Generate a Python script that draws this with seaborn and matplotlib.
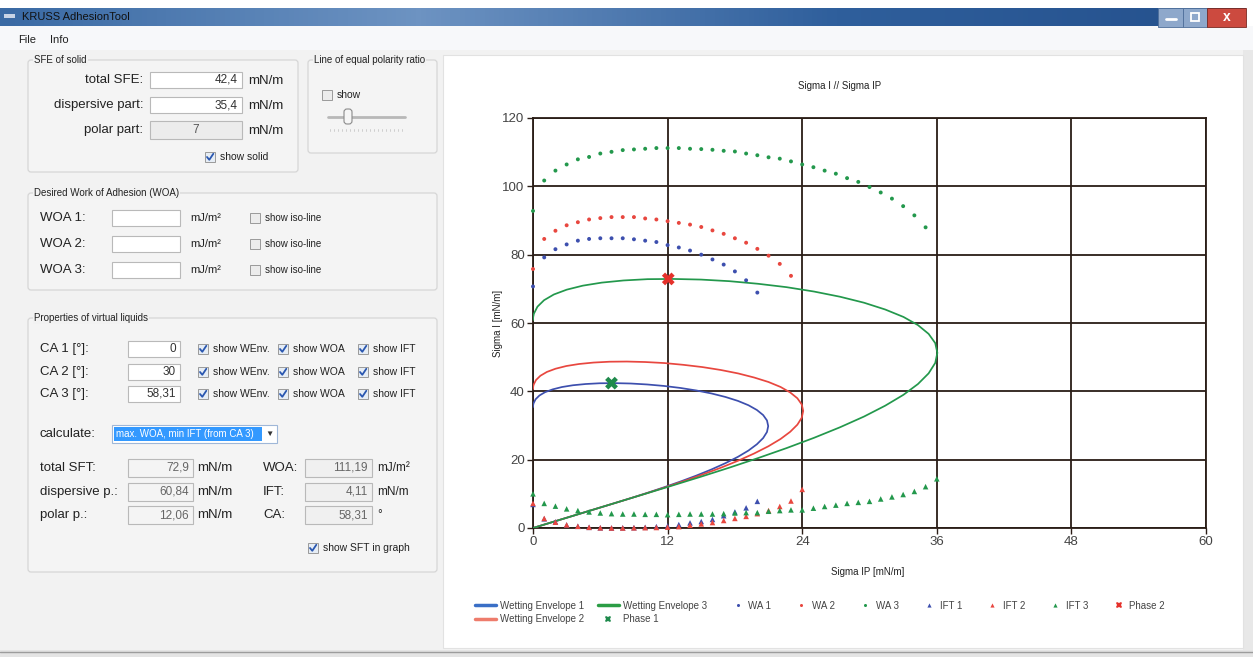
import numpy as np
import pandas as pd
import matplotlib
matplotlib.use("Agg")
import matplotlib.pyplot as plt
import matplotlib.patches as mpatches
from matplotlib.lines import Line2D
from matplotlib.colors import LinearSegmentedColormap
import seaborn as sns

# ── Style ──────────────────────────────────────────────────────────────
sns.set_theme(style="white")
plt.rcParams["font.family"] = ["Liberation Sans", "DejaVu Sans"]

W, H = 1253, 657
BLUE, RED, GREEN = "#3d4fae", "#e8473f", "#23984c"
LEG_BLUE, LEG_RED, LEG_GREEN = "#3a6fc6", "#ee7c6c", "#2b9d45"
GRID = "#2a1d16"

# ── Data ───────────────────────────────────────────────────────────────
X_TICKS = [0, 12, 24, 36, 48, 60]
Y_TICKS = [0, 20, 40, 60, 80, 100, 120]

# wetting envelopes: polar part (x) / total surface tension (y)
ENV1_P = [0, 7.01, 8.71, 10.18, 11.67, 13.14, 14.57, 15.92, 17.16, 18.27, 19.21, 19.96,
          20.52, 20.86, 20.97, 20.86, 20.52, 19.96, 19.21, 18.27, 17.16, 15.92, 14.57, 13.14,
          11.67, 10.18, 8.71, 7.28, 5.94, 4.69, 3.56, 2.58, 1.75, 1.08, 0.575, 0.23, 0.044,
          0.011, 0]
ENV1_S = [0, 7.01, 8.73, 10.27, 11.90, 13.59, 15.35, 17.15, 18.98, 20.83, 22.67, 24.51,
          26.33, 28.10, 29.82, 31.48, 33.05, 34.54, 35.93, 37.20, 38.35, 39.37, 40.25, 40.99,
          41.58, 42.01, 42.29, 42.40, 42.36, 42.14, 41.78, 41.26, 40.57, 39.76, 38.79, 37.68,
          36.46, 35.93, 35.39]
ENV2_P = [0, 8.05, 10.00, 11.70, 13.40, 15.10, 16.74, 18.29, 19.71, 20.99, 22.07, 22.93,
          23.57, 23.96, 24.09, 23.96, 23.57, 22.93, 22.07, 20.99, 19.71, 18.29, 16.74, 15.10,
          13.40, 11.70, 10.00, 8.37, 6.82, 5.39, 4.10, 2.97, 2.01, 1.24, 0.659, 0.265, 0.050,
          0.012, 0]
ENV2_S = [0, 8.05, 10.03, 11.81, 13.67, 15.62, 17.63, 19.70, 21.80, 23.93, 26.05, 28.16,
          30.24, 32.28, 34.26, 36.16, 37.97, 39.67, 41.28, 42.74, 44.05, 45.24, 46.25, 47.10,
          47.76, 48.28, 48.58, 48.72, 48.67, 48.42, 48.00, 47.41, 46.62, 45.68, 44.56, 43.30,
          41.90, 41.28, 40.67]
ENV3_P = [0, 12.05, 14.98, 17.51, 20.06, 22.60, 25.05, 27.37, 29.51, 31.40, 33.03, 34.32,
          35.27, 35.86, 36.05, 35.86, 35.27, 34.32, 33.03, 31.40, 29.51, 27.37, 25.05, 22.60,
          20.06, 17.51, 14.98, 12.52, 10.21, 8.07, 6.13, 4.44, 3.01, 1.86, 0.988, 0.397,
          0.076, 0.018, 0]
ENV3_S = [0, 12.05, 15.02, 17.67, 20.46, 23.38, 26.39, 29.48, 32.62, 35.80, 38.99, 42.14,
          45.26, 48.31, 51.27, 54.12, 56.82, 59.38, 61.77, 63.95, 65.94, 67.69, 69.21, 70.49,
          71.48, 72.24, 72.71, 72.89, 72.83, 72.45, 71.82, 70.93, 69.76, 68.35, 66.68, 64.78,
          62.70, 61.78, 60.85]

# work of adhesion / interfacial tension, one point per mN/m of polar part
WA1 = [70.7, 79.2, 81.6, 83.0, 84.1, 84.6, 84.8, 84.8, 84.8, 84.5, 84.1, 83.7, 82.8, 82.1,
       81.2, 80.0, 78.6, 77.1, 75.1, 72.5, 68.9]
WA2 = [75.8, 84.6, 87.0, 88.6, 89.5, 90.3, 90.7, 91.0, 91.0, 91.0, 90.6, 90.3, 89.8, 89.3,
       88.8, 88.1, 87.1, 86.1, 84.8, 83.5, 81.7, 79.7, 77.3, 73.8]
WA3 = [92.8, 101.7, 104.6, 106.4, 107.9, 108.6, 109.6, 110.1, 110.6, 110.8, 111.0, 111.2,
       111.2, 111.2, 111.0, 110.9, 110.7, 110.4, 110.2, 109.6, 109.1, 108.5, 108.1, 107.3,
       106.4, 105.6, 104.6, 103.7, 102.4, 101.3, 99.8, 98.2, 96.4, 94.2, 91.5, 88.0]
IFT1 = [6.9, 2.7, 1.8, 0.9, 0.5, 0.2, 0.05, 0.0, 0.05, 0.1, 0.2, 0.4, 0.6, 1.0, 1.5, 1.9,
        2.5, 3.6, 4.7, 5.9, 7.8]
IFT2 = [7.2, 2.8, 1.7, 0.9, 0.5, 0.2, 0.05, 0.0, 0.0, 0.05, 0.1, 0.15, 0.25, 0.4, 0.8,
        1.2, 1.6, 2.2, 2.8, 3.4, 4.2, 5.1, 6.3, 7.9, 11.3]
IFT3 = [10.0, 7.2, 6.4, 5.6, 5.1, 4.7, 4.4, 4.2, 4.1, 4.1, 4.0, 4.0, 3.9, 4.0, 4.1, 4.1,
        4.1, 4.2, 4.4, 4.5, 4.5, 4.9, 5.1, 5.3, 5.3, 5.8, 6.3, 6.7, 7.2, 7.5, 7.8, 8.5, 9.1,
        9.8, 10.7, 12.1, 14.4]

PHASE1 = (7.0, 42.4)     # solid
PHASE2 = (12.06, 72.9)   # virtual liquid


def series_frame(values, name):
    return pd.DataFrame({"p": list(range(len(values))), "v": values, "series": name})


env = pd.concat([
    pd.DataFrame({"p": ENV1_P, "v": ENV1_S, "series": "Wetting Envelope 1"}),
    pd.DataFrame({"p": ENV2_P, "v": ENV2_S, "series": "Wetting Envelope 2"}),
    pd.DataFrame({"p": ENV3_P, "v": ENV3_S, "series": "Wetting Envelope 3"}),
], ignore_index=True)
wa = pd.concat([series_frame(WA1, "WA 1"), series_frame(WA2, "WA 2"),
                series_frame(WA3, "WA 3")], ignore_index=True)
ift = pd.concat([series_frame(IFT1, "IFT 1"), series_frame(IFT2, "IFT 2"),
                 series_frame(IFT3, "IFT 3")], ignore_index=True)
phases = pd.DataFrame({"p": [PHASE1[0], PHASE2[0]], "v": [PHASE1[1], PHASE2[1]],
                       "series": ["Phase 1", "Phase 2"]})

fig = plt.figure(figsize=(W / 100, H / 100), dpi=100)
fig.patch.set_facecolor("#f2f2f2")

# ── Window chrome / left panel (pixel coordinates) ─────────────────────
ui = fig.add_axes([0, 0, 1, 1], zorder=0)
ui.axis("off")


def rect(x0, y0, x1, y1, fc, ec="none", lw=1.0, z=1):
    ui.add_patch(mpatches.Rectangle((x0, y0), x1 - x0, y1 - y0, fc=fc, ec=ec, lw=lw, zorder=z))


def txt(x, y, s, size=9.5, ha="left", color="#222222", **kw):
    ui.text(x, y, s, fontsize=size, ha=ha, va="center", color=color, zorder=5, **kw)


def group(x0, y0, x1, y1, label):
    ui.add_patch(mpatches.FancyBboxPatch((x0, y0), x1 - x0, y1 - y0,
                                         boxstyle="round,pad=0,rounding_size=3",
                                         fc="#f4f4f4", ec="#d6d6d6", lw=0.9, zorder=1))
    ui.text(x0 + 6, y0, label, fontsize=7, ha="left", va="center", color="#222222",
            zorder=5, bbox=dict(fc="#f2f2f2", ec="none", pad=1))


def field(x0, y0, x1, y1, value="", fc="white", color="#333333", ha="right"):
    rect(x0, y0, x1, y1, fc, ec="#b9b9b9", lw=0.8, z=2)
    if value:
        xt = x1 - 4 if ha == "right" else (x0 + x1) / 2
        txt(xt, (y0 + y1) / 2, value, size=8.5, ha=ha, color=color)


def checkbox(x, y, label, checked=True, size=7.5):
    rect(x, y - 5, x + 10, y + 5, "#e6edf5" if checked else "#ececec", ec="#9a9a9a", lw=0.7, z=3)
    if checked:
        ui.add_line(Line2D([x + 2, x + 4.3, x + 8.3], [y, y + 2.8, y - 3.2],
                           color="#2a57b0", lw=1.3, zorder=4))
    txt(x + 15, y, label, size=size)


# title bar
rect(0, 0, W, 8, "white", z=0)
cmap = LinearSegmentedColormap.from_list("tb", ["#3a6aa4", "#6d93c2", "#2f5f9c", "#24508c"])
ui.imshow(np.linspace(0, 1, 256)[None, :], cmap=cmap, aspect="auto",
          extent=[0, W, 26, 8], zorder=1)
rect(1246, 8, W, 26, "white", z=2)
rect(4, 14, 15, 18, "#c8d4e6", z=2)
txt(22, 16.5, "KRUSS AdhesionTool", size=8, color="#111111")
rect(1158, 8, 1183, 27, "#8ea8cb", ec="#4f6f9a", lw=0.6, z=2)
rect(1183, 8, 1207, 27, "#8ea8cb", ec="#4f6f9a", lw=0.6, z=2)
rect(1207, 8, 1246, 27, "#cc4a3f", ec="#7a2a22", lw=0.6, z=2)
ui.add_line(Line2D([1166, 1176], [19, 19], color="white", lw=2, zorder=3))
rect(1191, 13, 1199, 21, "none", ec="white", lw=1.3, z=3)
txt(1226.5, 17, "x", size=10, ha="center", color="white", fontweight="bold")

# menu + main background
rect(0, 26, W, 50, "#f7f8fa", z=0)
txt(18, 40, "File", size=8)
txt(50, 40, "Info", size=8)
rect(1243, 50, W, H, "#e8e8e8", z=0)
rect(0, 650, W, H, "#e4e4e4", z=0)
ui.add_line(Line2D([0, W], [652, 652], color="#9c9c9c", lw=1, zorder=1))

# SFE of solid
group(28, 60, 298, 172, "SFE of solid")
for y, lab, val in [(80, "total SFE:", "42,4"), (105, "dispersive part:", "35,4")]:
    txt(143, y, lab, ha="right")
    field(150, y - 8, 242, y + 8, val)
    txt(248, y + 1, "mN/m")
txt(143, 130, "polar part:", ha="right")
field(150, 121, 242, 139, "7", fc="#ececec", color="#555555", ha="center")
txt(248, 131, "mN/m")
checkbox(205, 157, "show solid")

# line of equal polarity ratio
group(308, 60, 437, 153, "Line of equal polarity ratio")
checkbox(322, 95, "show", checked=False)
ui.add_line(Line2D([328, 405], [117, 117], color="#b8b8b8", lw=2, zorder=3))
ui.add_patch(mpatches.FancyBboxPatch((344, 109), 8, 15, boxstyle="round,pad=0,rounding_size=3",
                                     fc="#f6f6f6", ec="#8a8a8a", lw=0.8, zorder=4))
for xt in range(330, 405, 4):
    ui.add_line(Line2D([xt, xt], [129, 131], color="#c8c8c8", lw=0.6, zorder=3))

# desired work of adhesion
group(28, 193, 437, 290, "Desired Work of Adhesion (WOA)")
for i, y in enumerate([218, 244, 270]):
    txt(40, y, f"WOA {i + 1}:")
    field(112, y - 8, 180, y + 8)
    txt(190, y, "mJ/m²", size=8)
    checkbox(250, y, "show iso-line", checked=False, size=7)

# properties of virtual liquids
group(28, 318, 437, 572, "Properties of virtual liquids")
for i, (y, val) in enumerate([(349, "0"), (372, "30"), (394, "58,31")]):
    txt(40, y, f"CA {i + 1} [°]:")
    field(128, y - 8, 180, y + 8, val)
    checkbox(198, y, "show WEnv.")
    checkbox(278, y, "show WOA")
    checkbox(358, y, "show IFT")
txt(40, 434, "calculate:")
rect(112, 425, 277, 443, "white", ec="#9fb7d8", lw=0.8, z=2)
rect(114, 427, 262, 441, "#3399ff", z=3)
txt(116, 434, "max. WOA, min IFT (from CA 3)", size=7, color="white")
txt(269, 434, "▼", size=6, ha="center", color="#333333")
rows = [(468, "total SFT:", "72,9", "WOA:", "111,19", "mJ/m²"),
        (492, "dispersive p.:", "60,84", "IFT:", "4,11", "mN/m"),
        (515, "polar p.:", "12,06", "CA:", "58,31", "°")]
for y, lab, val, lab2, val2, unit2 in rows:
    txt(40, y, lab)
    field(128, y - 9, 193, y + 9, val, fc="#f4f4f4", color="#666666")
    txt(197, y, "mN/m")
    txt(263, y, lab2)
    field(305, y - 9, 372, y + 9, val2, fc="#f0f0f0", color="#666666")
    txt(377, y, unit2, size=8.5)
checkbox(308, 548, "show SFT in graph")

# chart panel
rect(443, 55, 1243, 648, "white", ec="#e2e2e2", lw=0.8, z=1)
ui.set_xlim(0, W)
ui.set_ylim(H, 0)

# ── Chart ──────────────────────────────────────────────────────────────
ax = fig.add_axes([533 / W, 1 - 528 / H, (1206 - 533) / W, (528 - 118) / H], zorder=2)
ax.set_facecolor("white")

sns.lineplot(data=env, x="p", y="v", hue="series", sort=False, estimator=None,
             palette={"Wetting Envelope 1": BLUE, "Wetting Envelope 2": RED,
                      "Wetting Envelope 3": GREEN},
             lw=1.25, legend=False, ax=ax, zorder=3)
sns.scatterplot(data=wa, x="p", y="v", hue="series", marker="o", s=8, linewidth=0,
                palette={"WA 1": BLUE, "WA 2": RED, "WA 3": GREEN},
                legend=False, ax=ax, zorder=4, clip_on=False)
sns.scatterplot(data=ift, x="p", y="v", hue="series", marker="^", s=16, linewidth=0,
                palette={"IFT 1": BLUE, "IFT 2": RED, "IFT 3": GREEN},
                legend=False, ax=ax, zorder=4, clip_on=False)
sns.scatterplot(data=phases, x="p", y="v", hue="series", marker="X", s=85, linewidth=0,
                palette={"Phase 1": "#1f8a4c", "Phase 2": "#e5312b"},
                legend=False, ax=ax, zorder=5, clip_on=False)

ax.set_xlim(X_TICKS[0], X_TICKS[-1])
ax.set_ylim(Y_TICKS[0], Y_TICKS[-1])
ax.set_xticks(X_TICKS)
ax.set_yticks(Y_TICKS)
ax.grid(True, color=GRID, lw=1.3)
ax.set_axisbelow(True)
for sp in ax.spines.values():
    sp.set_color(GRID)
    sp.set_linewidth(1.3)
ax.tick_params(axis="both", direction="out", length=4, width=1, color=GRID,
               labelsize=9.5, labelcolor="#444444", pad=2, bottom=True, left=True)
ax.set_xlabel("")
ax.set_ylabel("")

fig.text(840 / W, 1 - 86 / H, "Sigma I // Sigma IP", fontsize=7, ha="center", va="center",
         color="#222222")
fig.text(868 / W, 1 - 572 / H, "Sigma IP [mN/m]", fontsize=7, ha="center", va="center",
         color="#222222")
fig.text(498 / W, 1 - 323 / H, "Sigma I [mN/m]", fontsize=7, ha="center", va="center",
         rotation=90, color="#222222")

# legend: envelopes + phase 1 in two rows, the rest in one row
env_handles = [
    Line2D([], [], color=LEG_BLUE, lw=2.5),
    Line2D([], [], color=LEG_RED, lw=2.5),
    Line2D([], [], color=LEG_GREEN, lw=2.5),
    Line2D([], [], color="#1f8a4c", marker="X", ls="none", ms=5, mew=0),
]
env_labels = ["Wetting Envelope 1", "Wetting Envelope 2", "Wetting Envelope 3", "Phase 1"]
pt_handles = [
    Line2D([], [], color=BLUE, marker="o", ls="none", ms=2.2, mew=0),
    Line2D([], [], color=RED, marker="o", ls="none", ms=2.2, mew=0),
    Line2D([], [], color=GREEN, marker="o", ls="none", ms=2.2, mew=0),
    Line2D([], [], color=BLUE, marker="^", ls="none", ms=3, mew=0),
    Line2D([], [], color=RED, marker="^", ls="none", ms=3, mew=0),
    Line2D([], [], color=GREEN, marker="^", ls="none", ms=3, mew=0),
    Line2D([], [], color="#e5312b", marker="X", ls="none", ms=5, mew=0),
]
pt_labels = ["WA 1", "WA 2", "WA 3", "IFT 1", "IFT 2", "IFT 3", "Phase 2"]
leg1 = fig.legend(env_handles, env_labels, ncol=2, loc="upper left",
                  bbox_to_anchor=(466 / W, 1 - 592 / H), frameon=False, fontsize=7,
                  handlelength=2.2, handletextpad=0.4, columnspacing=1.4, labelspacing=0.35)
leg2 = fig.legend(pt_handles, pt_labels, ncol=7, loc="upper left",
                  bbox_to_anchor=(723 / W, 1 - 592 / H), frameon=False, fontsize=7,
                  handlelength=1.2, handletextpad=0.5, columnspacing=2.5, labelspacing=0.35)
for leg in (leg1, leg2):
    for t in leg.get_texts():
        t.set_color("#444444")

fig.savefig("out.png", dpi=100, facecolor=fig.get_facecolor())
